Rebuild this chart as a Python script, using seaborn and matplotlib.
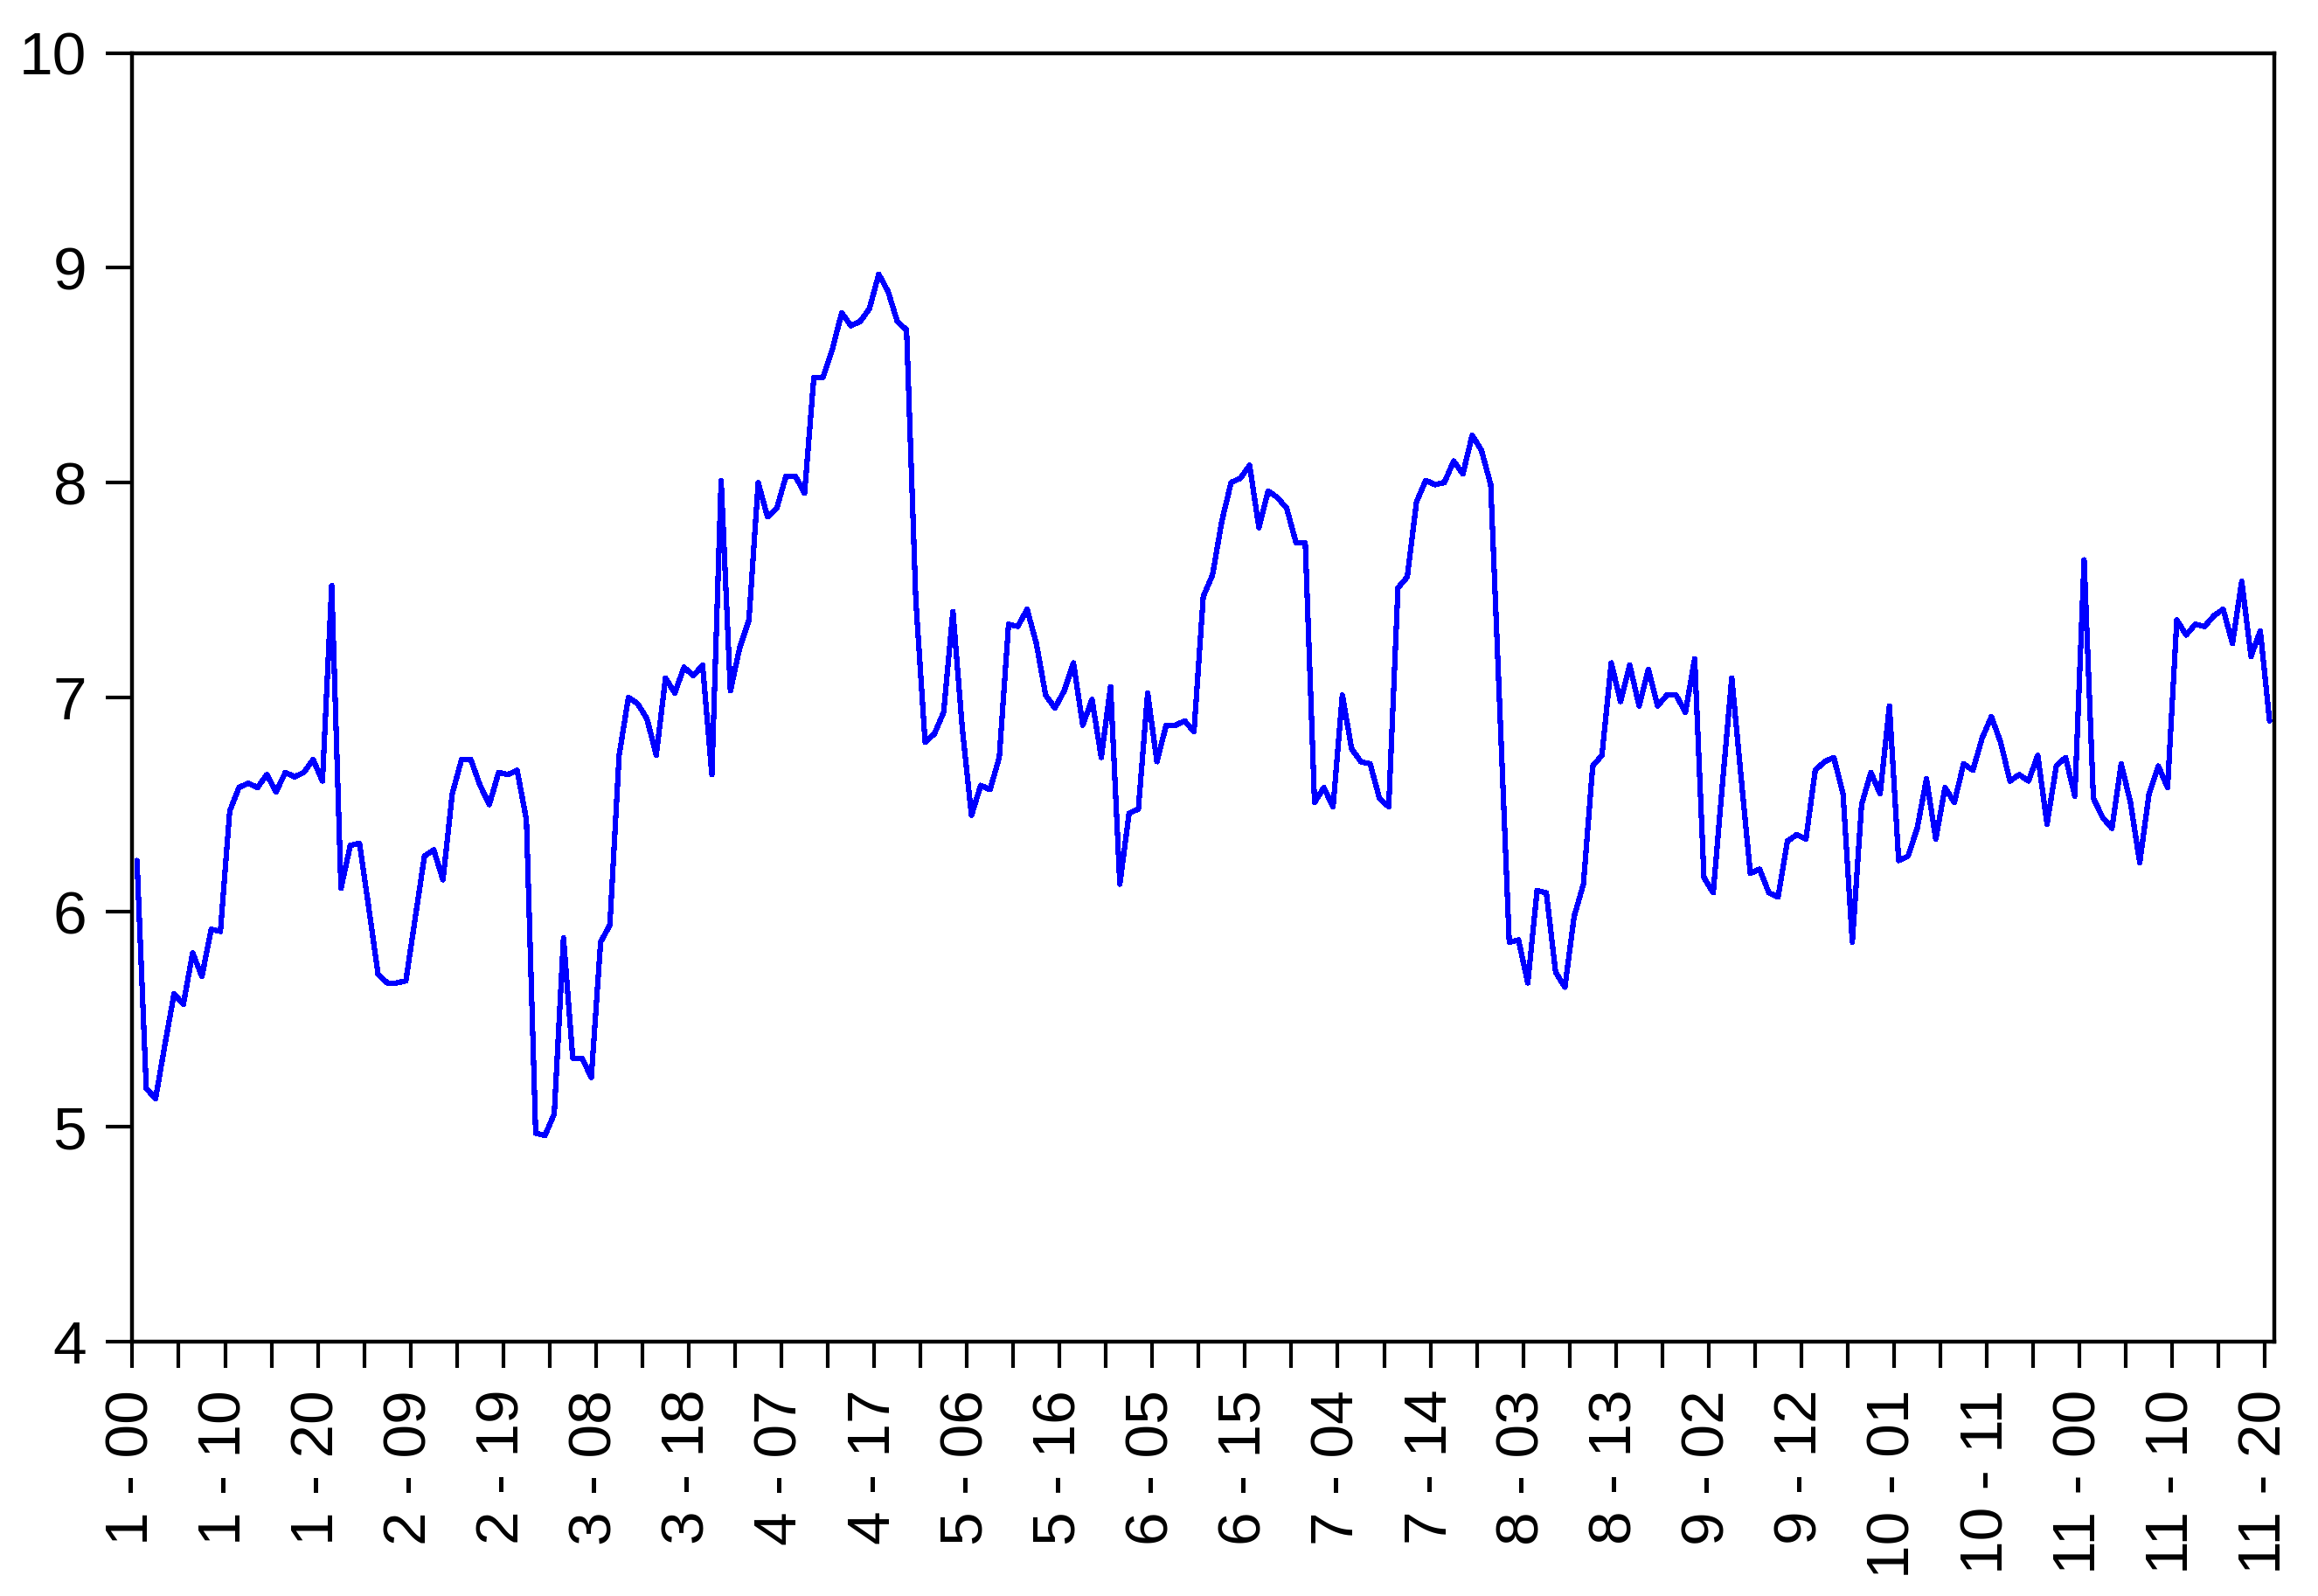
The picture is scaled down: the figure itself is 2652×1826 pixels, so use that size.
import matplotlib
matplotlib.use("Agg")
import matplotlib.pyplot as plt
import numpy as np
import pandas as pd
import seaborn as sns

# values, one list per period (steps 00..20)
period_1 = [6.24, 5.18, 5.13, 5.38, 5.62, 5.57, 5.81, 5.70, 5.92, 5.91, 6.47,
            6.58, 6.60, 6.58, 6.64, 6.56, 6.65, 6.63, 6.65, 6.71, 6.61]
period_2 = [7.52, 6.11, 6.31, 6.32, 6.02, 5.71, 5.67, 5.67, 5.68, 5.97, 6.26,
            6.29, 6.15, 6.55, 6.71, 6.71, 6.59, 6.50, 6.65, 6.64, 6.66]
period_3 = [6.43, 4.97, 4.96, 5.06, 5.88, 5.32, 5.32, 5.23, 5.86, 5.94, 6.73,
            7.00, 6.97, 6.90, 6.73, 7.09, 7.02, 7.14, 7.10, 7.15, 6.64]
period_4 = [8.01, 7.03, 7.23, 7.36, 8.00, 7.84, 7.88, 8.03, 8.03, 7.95, 8.49,
            8.49, 8.62, 8.79, 8.73, 8.75, 8.81, 8.97, 8.89, 8.75, 8.71]
period_5 = [7.45, 6.79, 6.83, 6.93, 7.40, 6.86, 6.45, 6.59, 6.57, 6.72, 7.34,
            7.33, 7.41, 7.25, 7.01, 6.95, 7.03, 7.16, 6.87, 6.99, 6.72]
period_6 = [7.05, 6.13, 6.46, 6.48, 7.02, 6.70, 6.87, 6.87, 6.89, 6.84, 7.47,
            7.57, 7.82, 8.00, 8.02, 8.08, 7.79, 7.96, 7.93, 7.88, 7.72]
period_7 = [7.72, 6.51, 6.58, 6.49, 7.01, 6.76, 6.70, 6.69, 6.53, 6.49, 7.51,
            7.56, 7.91, 8.01, 7.99, 8.00, 8.10, 8.04, 8.22, 8.15, 7.99]
period_8 = [6.93, 5.86, 5.87, 5.67, 6.10, 6.09, 5.72, 5.65, 5.98, 6.13, 6.68,
            6.73, 7.16, 6.98, 7.15, 6.96, 7.13, 6.96, 7.01, 7.01, 6.93]
period_9 = [7.18, 6.16, 6.09, 6.60, 7.09, 6.63, 6.18, 6.20, 6.09, 6.07, 6.33,
            6.36, 6.34, 6.66, 6.70, 6.72, 6.55, 5.86, 6.50, 6.65, 6.55]
period_10 = [6.96, 6.24, 6.26, 6.39, 6.62, 6.34, 6.58, 6.51, 6.69, 6.66, 6.81,
             6.91, 6.79, 6.61, 6.64, 6.61, 6.73, 6.41, 6.68, 6.72, 6.54]
period_11 = [7.64, 6.53, 6.44, 6.39, 6.69, 6.51, 6.23, 6.55, 6.68, 6.58, 7.36,
             7.29, 7.34, 7.33, 7.38, 7.41, 7.25, 7.54, 7.19, 7.31, 6.89]

periods = [period_1, period_2, period_3, period_4, period_5, period_6,
           period_7, period_8, period_9, period_10, period_11]

y_ticks = [4, 5, 6, 7, 8, 9, 10]

# long table: period, step within period, value
rows = []
for p, vals in enumerate(periods, start=1):
    for k, v in enumerate(vals):
        rows.append({"period": p, "step": k, "value": v})
df = pd.DataFrame(rows)
df["obs"] = np.arange(len(df))
df["label"] = df["period"].astype(str) + " - " + df["step"].map("{:02d}".format)

sns.set_style("ticks")
plt.rcParams["font.family"] = ["Liberation Sans", "DejaVu Sans"]

fig = plt.figure(figsize=(26.52, 18.26), dpi=100)
ax = fig.add_axes([0.0571, 0.1594, 0.9240, 0.8074])

# observations sit in the middle of their slot, ticks at slot start
sns.lineplot(x=df["obs"] + 0.5, y=df["value"], ax=ax, color="#0000ff",
             linewidth=3.7, antialiased=False)

ax.set_xlim(0, len(df))
ax.set_ylim(4, 10)

tick_obs = df["obs"].values[::5]
tick_labels = [lab if o % 10 == 0 else "" for o, lab in zip(tick_obs, df["label"].values[::5])]
ax.set_xticks(tick_obs)
ax.set_xticklabels(tick_labels, rotation=90)
ax.set_yticks(y_ticks)
ax.set_yticklabels([str(t) for t in y_ticks])

ax.set_xlabel("")
ax.set_ylabel("")
for side in ["top", "right", "bottom", "left"]:
    ax.spines[side].set_visible(True)
    ax.spines[side].set_linewidth(3.2)
    ax.spines[side].set_color("black")

ax.tick_params(axis="both", direction="out", length=21.5, width=3.0,
               colors="black", labelsize=50)
ax.tick_params(axis="x", pad=18)
ax.tick_params(axis="y", pad=16)
ax.grid(False)

fig.savefig("out.png", dpi=100)
